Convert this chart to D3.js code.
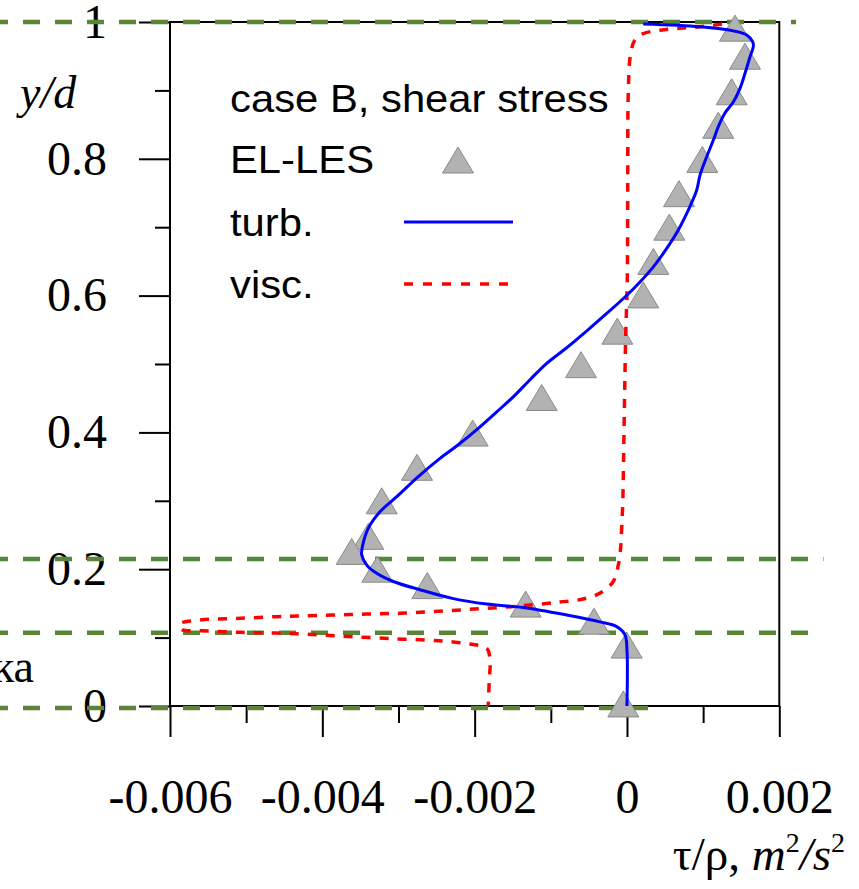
<!DOCTYPE html>
<html>
<head>
<meta charset="utf-8">
<script src="https://cdn.jsdelivr.net/npm/d3@7/dist/d3.min.js"></script>
<style>
  html, body { margin: 0; padding: 0; background: #fff; }
  svg { display: block; }
</style>
</head>
<body>
<svg id="chart" width="859" height="889"></svg>
<script>
// ---- data ----
const xTickValues = [-0.006, -0.004, -0.002, 0, 0.002];
const xTickLabels = ["-0.006", "-0.004", "-0.002", "0", "0.002"];
const xMinorTicks = [-0.005, -0.003, -0.001, 0.001];
const yTickValues = [0, 0.2, 0.4, 0.6, 0.8, 1];
const yTickLabels = ["0", "0.2", "0.4", "0.6", "0.8", "1"];
const yMinorTicks = [0.1, 0.3, 0.5, 0.7, 0.9];

// EL-LES (triangles)
const elesX = [0.001418, 0.00155, 0.001375, 0.001199, 0.000989, 0.000683, 0.000556, 0.000346, 0.000214, -0.000127, -0.000604, -0.00112, -0.002026, -0.002757, -0.00322, -0.003396, -0.003614, -0.003278, -0.002622, -0.00133, -0.000433, -0.000004, -0.000048];
const elesY = [0.991, 0.950, 0.898, 0.849, 0.799, 0.749, 0.700, 0.650, 0.601, 0.548, 0.499, 0.451, 0.399, 0.349, 0.300, 0.248, 0.226, 0.200, 0.176, 0.149, 0.124, 0.089, 0.003];

// turb. (solid blue)
const turbX = [0.000214,0.000959,0.001396,0.001572,0.001651,0.001659,0.001615,0.00155,0.001484,0.001396,0.001287,0.001199,0.001133,0.001047,0.000959,0.000915,0.000805,0.000674,0.000522,0.000346,0.000171,-0.000026,-0.000266,-0.000512,-0.0008,-0.001054,-0.001273,-0.001493,-0.00171,-0.001952,-0.002215,-0.002455,-0.002744,-0.003023,-0.003243,-0.003396,-0.00347,-0.003483,-0.003417,-0.003286,-0.003068,-0.002718,-0.00228,-0.001842,-0.001365,-0.000791,-0.000354,-0.000135,-0.000026,0,0];
const turbY = [0.997,0.993,0.987,0.981,0.971,0.964,0.949,0.925,0.903,0.883,0.867,0.847,0.827,0.803,0.776,0.754,0.725,0.696,0.669,0.642,0.620,0.598,0.574,0.550,0.523,0.501,0.477,0.452,0.430,0.406,0.382,0.362,0.335,0.306,0.284,0.260,0.235,0.221,0.206,0.194,0.182,0.170,0.157,0.149,0.144,0.133,0.123,0.116,0.104,0.082,0.0];

// visc. (dashed red)
const viscX = [0.001248,0.000959,0.000696,0.000434,0.000214,0.000105,0.000046,0.000017,0.00001,0.000004,-0.000017,-0.000035,-0.000056,-0.000069,-0.000082,-0.000114,-0.00018,-0.000354,-0.000595,-0.000879,-0.00123,-0.001667,-0.002104,-0.002543,-0.00298,-0.003417,-0.003856,-0.004293,-0.004599,-0.005124,-0.005606,-0.005869,-0.005846,-0.005584,-0.005081,-0.004599,-0.004074,-0.003593,-0.003068,-0.002586,-0.002324,-0.002061,-0.001842,-0.001798,-0.001808,-0.001821];
const viscY = [0.997,0.993,0.991,0.988,0.983,0.974,0.952,0.896,0.769,0.623,0.540,0.428,0.294,0.262,0.233,0.206,0.182,0.165,0.156,0.152,0.148,0.144,0.141,0.138,0.1355,0.1345,0.133,0.1316,0.1306,0.128,0.1257,0.120,0.112,0.110,0.1077,0.1067,0.1042,0.1013,0.0984,0.0961,0.094,0.0906,0.0844,0.0673,0.038,0.0];

// green dashed guide levels (y/d) and where each ends (tau/rho)
const guideLevels = [1.0, 0.215, 0.107, -0.003];
const guideEnds = [0.00222, 0.00258, 0.00256, 0.00041];

const legendLabels = ["case B, shear stress", "EL-LES", "turb.", "visc."];

// ---- drawing ----
const svg = d3.select("#chart");
const x = d3.scaleLinear().domain([-0.006, 0.002]).range([170, 779.3]);
const y = d3.scaleLinear().domain([0, 1]).range([706, 22]);
const serif = "'Liberation Serif', 'Times New Roman', serif";
const sans = "'Liberation Sans', Arial, sans-serif";

// frame
svg.append("rect")
  .attr("x", x(-0.006)).attr("y", y(1))
  .attr("width", x(0.002) - x(-0.006)).attr("height", y(0) - y(1))
  .attr("fill", "none").attr("stroke", "#000").attr("stroke-width", 2);

// y axis (major)
const yAxis = d3.axisLeft(y).tickValues(yTickValues)
  .tickFormat((d, i) => yTickLabels[i]).tickSize(31).tickSizeOuter(0).tickPadding(32);
const gy = svg.append("g").attr("transform", `translate(${x(-0.006)},0)`).call(yAxis);
gy.select(".domain").remove();
gy.selectAll(".tick line").attr("stroke", "#000").attr("stroke-width", 2);
gy.selectAll(".tick text").attr("font-family", serif).attr("font-size", 48).attr("fill", "#000");

// y axis minor
const yMinor = d3.axisLeft(y).tickValues(yMinorTicks).tickFormat("").tickSize(15).tickSizeOuter(0);
const gym = svg.append("g").attr("transform", `translate(${x(-0.006)},0)`).call(yMinor);
gym.select(".domain").remove();
gym.selectAll(".tick line").attr("stroke", "#000").attr("stroke-width", 2);

// x axis (major)
const xAxis = d3.axisBottom(x).tickValues(xTickValues)
  .tickFormat((d, i) => xTickLabels[i]).tickSize(31).tickSizeOuter(0).tickPadding(42);
const gx = svg.append("g").attr("transform", `translate(0,${y(0)})`).call(xAxis);
gx.select(".domain").remove();
gx.selectAll(".tick line").attr("stroke", "#000").attr("stroke-width", 2);
gx.selectAll(".tick text").attr("font-family", serif).attr("font-size", 48).attr("fill", "#000");

const xMinor = d3.axisBottom(x).tickValues(xMinorTicks).tickFormat("").tickSize(17).tickSizeOuter(0);
const gxm = svg.append("g").attr("transform", `translate(0,${y(0)})`).call(xMinor);
gxm.select(".domain").remove();
gxm.selectAll(".tick line").attr("stroke", "#000").attr("stroke-width", 2);

// green dashed guides
svg.append("g").selectAll("line").data(guideLevels).join("line")
  .attr("x1", 0).attr("x2", (d, i) => x(guideEnds[i]))
  .attr("y1", d => y(d)).attr("y2", d => y(d))
  .attr("stroke", "#588537").attr("stroke-width", 4.5)
  .attr("stroke-dasharray", "17,15").attr("stroke-dashoffset", 9);

// triangles
const triW = 31, triH = 26;
const triPath = `M0,${-triH/2}L${triW/2},${triH/2}L${-triW/2},${triH/2}Z`;
svg.append("g").selectAll("path").data(elesX.map((v, i) => [v, elesY[i]])).join("path")
  .attr("d", triPath)
  .attr("transform", d => `translate(${x(d[0])},${y(d[1])})`)
  .attr("fill", "#b2b2b2").attr("stroke", "#8a8a8a").attr("stroke-width", 1);

// visc. line
const lineGen = d3.line().x(d => x(d[0])).y(d => y(d[1])).curve(d3.curveCatmullRom.alpha(0.5));
svg.append("path")
  .datum(viscX.map((v, i) => [v, viscY[i]]))
  .attr("d", lineGen)
  .attr("fill", "none").attr("stroke", "#ff0000").attr("stroke-width", 3.5)
  .attr("stroke-dasharray", "9,9");

// turb. line
svg.append("path")
  .datum(turbX.map((v, i) => [v, turbY[i]]))
  .attr("d", lineGen)
  .attr("fill", "none").attr("stroke", "#0000ff").attr("stroke-width", 3);

// legend
const legBase = [112, 173, 236, 298];
const lg = svg.append("g");
legendLabels.forEach((t, i) => {
  lg.append("text")
    .attr("transform", `translate(230,${legBase[i]}) scale(1.1,1)`)
    .attr("font-family", sans).attr("font-size", 38).attr("fill", "#000")
    .text(t);
});
lg.append("path").attr("d", triPath).attr("transform", "translate(458,160)")
  .attr("fill", "#b2b2b2").attr("stroke", "#8a8a8a").attr("stroke-width", 1);
lg.append("line").attr("x1", 404).attr("x2", 513).attr("y1", 222).attr("y2", 222)
  .attr("stroke", "#0000ff").attr("stroke-width", 3);
lg.append("line").attr("x1", 404).attr("x2", 512).attr("y1", 284).attr("y2", 284)
  .attr("stroke", "#ff0000").attr("stroke-width", 3.5).attr("stroke-dasharray", "9,10");

// axis titles
const yl = svg.append("text").attr("x", 20).attr("y", 108)
  .attr("font-family", serif).attr("font-size", 46).attr("font-style", "italic").attr("fill", "#000");
yl.text("y/d");

const xl = svg.append("text").attr("x", 845).attr("y", 870).attr("text-anchor", "end")
  .attr("font-family", serif).attr("font-size", 47).attr("fill", "#000");
xl.append("tspan").text("τ/ρ, ");
xl.append("tspan").attr("font-style", "italic").text("m");
xl.append("tspan").attr("font-size", 28).attr("dy", -18).text("2");
xl.append("tspan").attr("font-style", "italic").attr("dy", 18).text("/s");
xl.append("tspan").attr("font-size", 28).attr("dy", -18).text("2");

// cut-off side label
svg.append("text").attr("x", 34).attr("y", 682).attr("text-anchor", "end")
  .attr("font-family", serif).attr("font-size", 46).attr("fill", "#000").text("ка");
</script>
</body>
</html>
